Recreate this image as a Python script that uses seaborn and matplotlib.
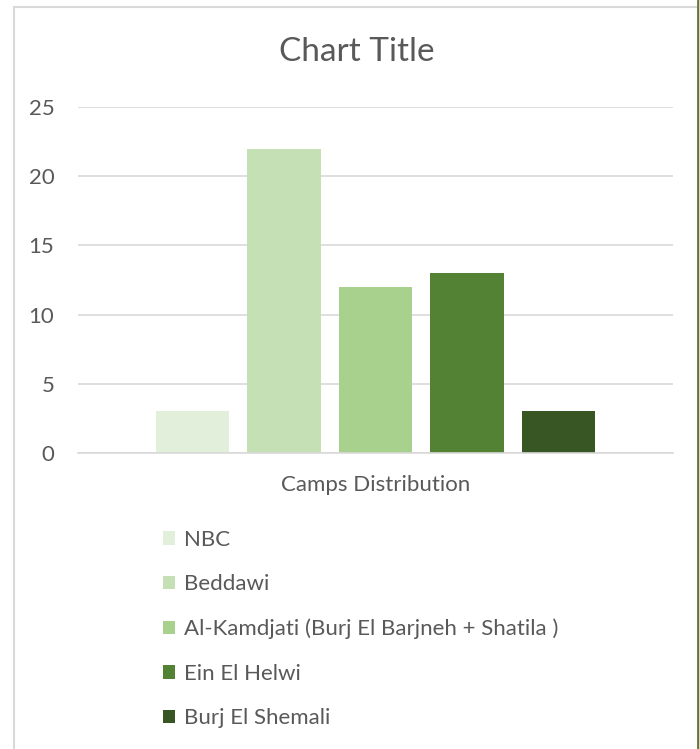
import seaborn as sns
import matplotlib.pyplot as plt
import pandas as pd
from matplotlib.patches import Rectangle
from matplotlib.lines import Line2D

camps = ["NBC", "Beddawi", "Al-Kamdjati (Burj El Barjneh + Shatila )", "Ein El Helwi", "Burj El Shemali"]
counts = [3, 22, 12, 13, 3]
group = ["Camps Distribution"] * len(camps)
colors = ["#E2EFDA", "#C5E0B4", "#A9D18E", "#548235", "#375623"]

df = pd.DataFrame({"group": group, "camp": camps, "count": counts})

sns.set_theme(style="white")
plt.rcParams["font.family"] = ["Lato", "DejaVu Sans"]

fig = plt.figure(figsize=(6.99, 7.49), dpi=100)
ax = fig.add_axes([78 / 699, 1 - 453 / 749, 595 / 699, 346 / 749])

sns.barplot(data=df, x="group", y="count", hue="camp", palette=colors,
            width=0.77, gap=0.2, ax=ax, saturation=1, errorbar=None, linewidth=0)

ax.set_ylim(0, 25)
ax.set_yticks(range(0, 26, 5))
ax.yaxis.grid(True, color="#D9D9D9", linewidth=1.2)
ax.set_axisbelow(True)
for s in ["top", "right", "left"]:
    ax.spines[s].set_visible(False)
ax.spines["bottom"].set_color("#D9D9D9")
ax.spines["bottom"].set_linewidth(1.2)
ax.set_xlabel("")
ax.set_ylabel("")
ax.tick_params(axis="both", length=0, labelsize=16, colors="#595959")
ax.tick_params(axis="x", pad=16)
ax.tick_params(axis="y", pad=17)

fig.text(357 / 699, 1 - 52 / 749, "Chart Title", ha="center", va="center", fontsize=24, color="#595959")

sns.move_legend(ax, loc="upper left", bbox_to_anchor=(163 / 699, 1 - 530 / 749),
                bbox_transform=fig.transFigure, frameon=False, title=None,
                fontsize=16, labelcolor="#595959", handlelength=0.55, handleheight=0.55,
                handletextpad=0.4, labelspacing=1.1, borderaxespad=0, borderpad=0)

# chart area border
fig.patches.append(Rectangle((13.5 / 699, -0.01), 684 / 699, 1 - 7 / 749 + 0.01,
                             transform=fig.transFigure, fill=False,
                             edgecolor="#D9D9D9", linewidth=1.5))
fig.lines.append(Line2D([698 / 699, 698 / 699], [0, 1], transform=fig.transFigure,
                        color="#548235", linewidth=2))

plt.savefig("out.png", dpi=100)
